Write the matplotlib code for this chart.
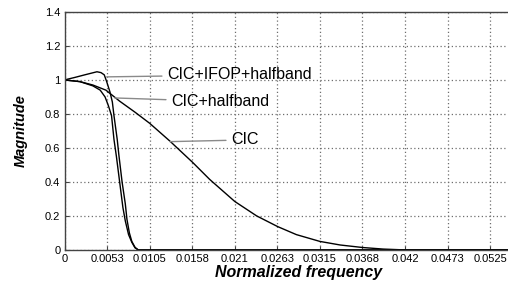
import matplotlib
matplotlib.use("Agg")
import matplotlib.pyplot as plt

plt.rcParams['font.family'] = ['Liberation Sans', 'DejaVu Sans']

# ---- data ----
cic_f = [0, 0, 0.0019, 0.0035, 0.0051, 0.0068, 0.0087, 0.0105, 0.0130, 0.0158, 0.0179,
         0.0210, 0.0237, 0.0263, 0.0286, 0.0315, 0.0340, 0.0368, 0.0393, 0.0420, 0.0547]
cic_m = [0, 1.0, 0.99, 0.97, 0.94, 0.875, 0.81, 0.745, 0.64, 0.515, 0.415,
         0.285, 0.20, 0.137, 0.09, 0.05, 0.029, 0.014, 0.005, 0.0, 0.0]

hb_f = [0, 0, 0.0019, 0.0035, 0.0044, 0.0050, 0.0054, 0.0058, 0.0061, 0.0064, 0.0068,
        0.0072, 0.0075, 0.0079, 0.0083, 0.0087, 0.0091, 0.0547]
hb_m = [0, 1.0, 0.99, 0.965, 0.94, 0.90, 0.85, 0.79, 0.65, 0.55, 0.40,
        0.25, 0.17, 0.09, 0.045, 0.012, 0.0, 0.0]

ifop_f = [0, 0, 0.0013, 0.0025, 0.0040, 0.0045, 0.0049, 0.0052, 0.0056, 0.0059, 0.0061,
          0.0065, 0.0067, 0.0071, 0.0075, 0.0077, 0.0080, 0.0083, 0.0087, 0.0091, 0.0547]
ifop_m = [0, 1.0, 1.015, 1.03, 1.048, 1.043, 1.03, 0.99, 0.93, 0.87, 0.79,
          0.65, 0.56, 0.40, 0.27, 0.18, 0.10, 0.05, 0.015, 0.0, 0.0]

xtick_vals = [0, 0.00525, 0.0105, 0.01575, 0.021, 0.02625, 0.0315, 0.03675, 0.042, 0.04725, 0.0525]
xtick_labels = ['0', '0.0053', '0.0105', '0.0158', '0.021', '0.0263', '0.0315',
                '0.0368', '0.042', '0.0473', '0.0525']
ytick_vals = [0, 0.2, 0.4, 0.6, 0.8, 1.0, 1.2, 1.4]
ytick_labels = ['0', '0.2', '0.4', '0.6', '0.8', '1', '1.2', '1.4']

labels = ['CIC+IFOP+halfband', 'CIC+halfband', 'CIC']
label_pts = [(0.0052, 1.018), (0.0062, 0.894), (0.0130, 0.637)]
label_txt = [(0.0127, 1.029), (0.0132, 0.873), (0.0206, 0.647)]

# ---- figure ----
fig = plt.figure(figsize=(5.08, 2.84), dpi=100)
ax = fig.add_axes([0.127, 0.12, 0.873, 0.838])

ax.grid(True, color='#6e6e6e', linestyle=(0, (1.0, 2.0)), linewidth=0.9)
ax.set_axisbelow(True)

ax.plot(cic_f, cic_m, color='black', lw=1.0, solid_joinstyle='round')
ax.plot(hb_f, hb_m, color='black', lw=1.0, solid_joinstyle='round')
ax.plot(ifop_f, ifop_m, color='black', lw=1.0, solid_joinstyle='round')

for lab, p, t in zip(labels, label_pts, label_txt):
    ax.annotate(lab, xy=p, xytext=t, ha='left', va='center', fontsize=11.5,
                color='black',
                arrowprops=dict(arrowstyle='-', color='#8a8a8a', lw=1.0,
                                shrinkA=2, shrinkB=0))

ax.set_xlim(0, 0.0547)
ax.set_ylim(0, 1.4)
ax.set_xticks(xtick_vals)
ax.set_xticklabels(xtick_labels)
ax.set_yticks(ytick_vals)
ax.set_yticklabels(ytick_labels)
ax.tick_params(axis='both', direction='in', length=3, labelsize=8, color='#444444')
ax.tick_params(axis='x', pad=3)
ax.tick_params(axis='y', pad=3)

for s in ['left', 'bottom', 'top']:
    ax.spines[s].set_color('#444444')
    ax.spines[s].set_linewidth(1.0)
ax.spines['right'].set_visible(False)

ax.set_xlabel('Normalized frequency', fontsize=11.5, fontstyle='italic', fontweight='bold')
ax.xaxis.set_label_coords(0.527, -0.093)
ax.xaxis.label.set_verticalalignment('center')
ax.set_ylabel('Magnitude', fontsize=10.5, fontstyle='italic', fontweight='bold', labelpad=12)

fig.savefig('out.png', dpi=100)
